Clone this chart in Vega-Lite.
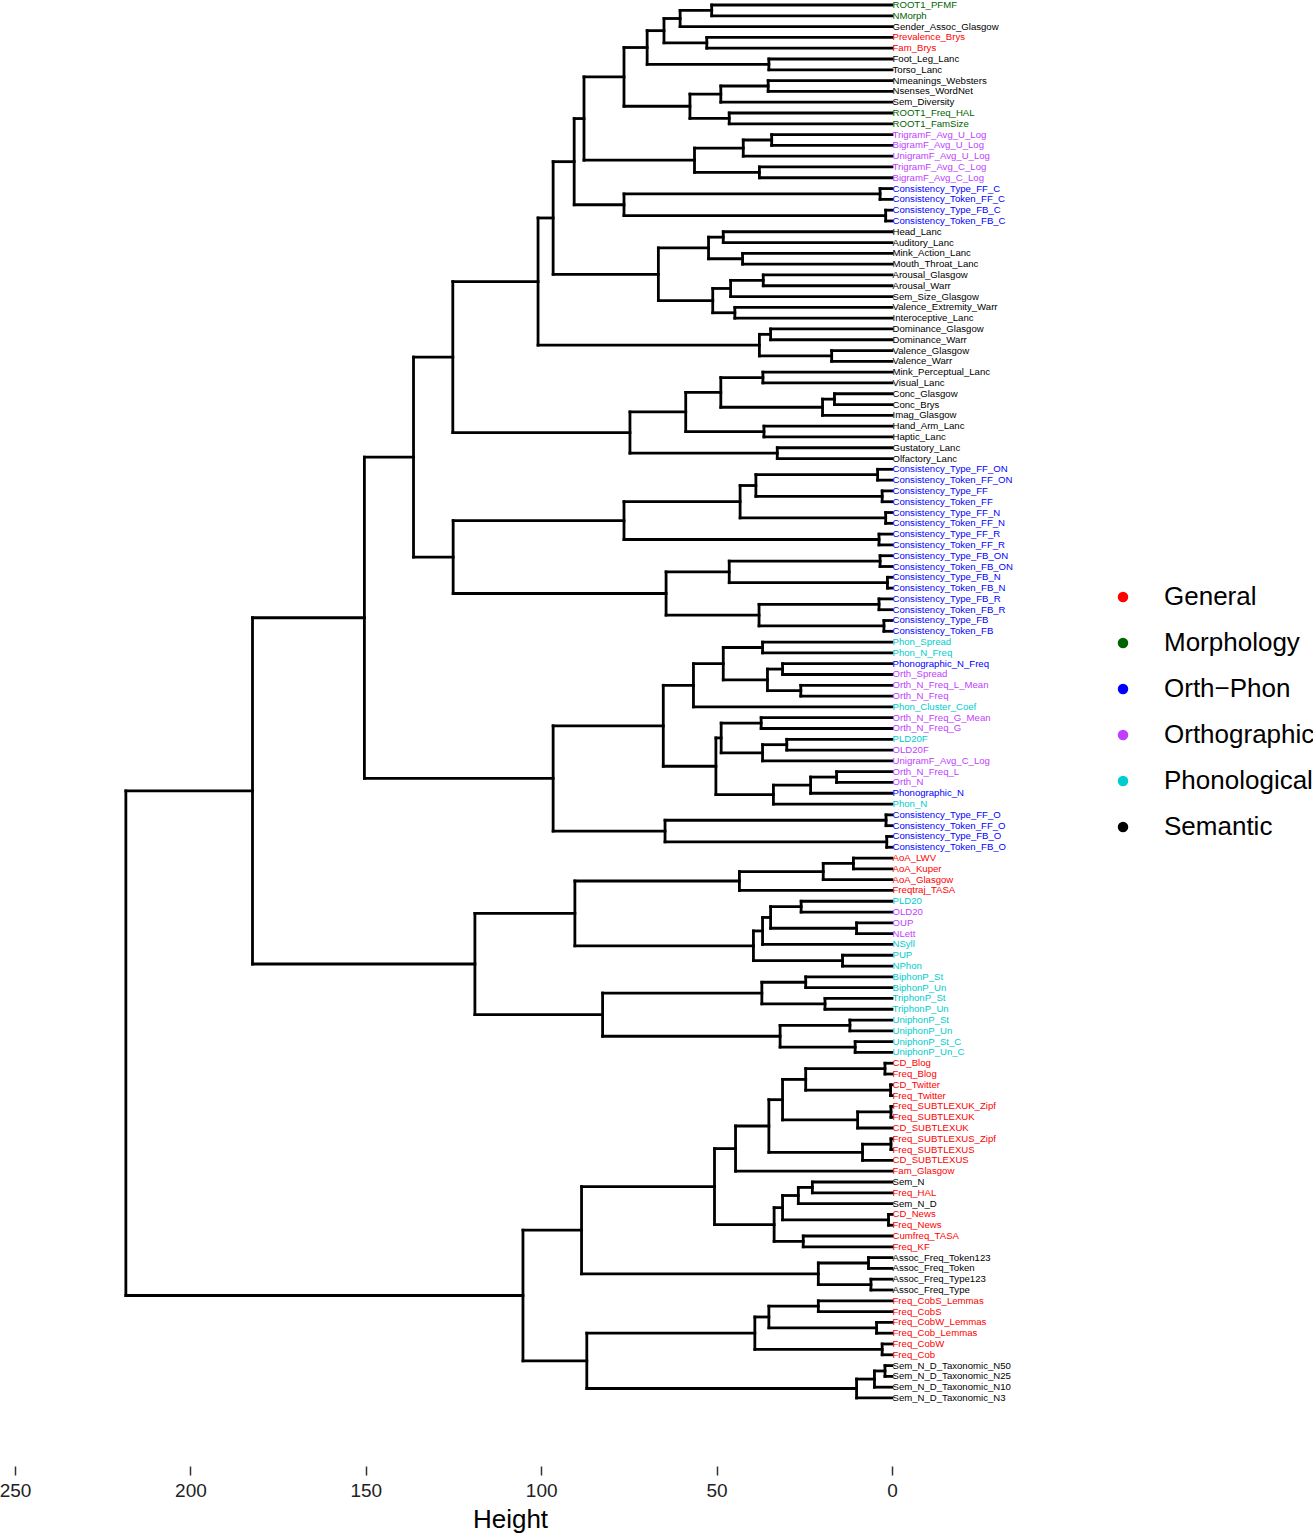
{
"$schema": "https://vega.github.io/schema/vega-lite/v6.json",
"width": 1020, "height": 1466, "padding": {"left": 0, "top": 0, "right": 293, "bottom": 69}, "autosize": {"type": "none"},
"config": {"view": {"stroke": null}, "font": "Liberation Sans"},
"datasets": {
"nodes": [
{"h":51.4,"a":1,"b":2,"ha":0,"hb":0},
{"h":60.4,"a":1.5,"b":3,"ha":51.4,"hb":0},
{"h":52.8,"a":4,"b":5,"ha":0,"hb":0},
{"h":65.0,"a":2.25,"b":4.5,"ha":60.4,"hb":52.8},
{"h":35.1,"a":6,"b":7,"ha":0,"hb":0},
{"h":69.8,"a":3.375,"b":6.5,"ha":65.0,"hb":35.1},
{"h":35.3,"a":8,"b":9,"ha":0,"hb":0},
{"h":48.8,"a":8.5,"b":10,"ha":35.3,"hb":0},
{"h":46.4,"a":11,"b":12,"ha":0,"hb":0},
{"h":57.6,"a":9.25,"b":11.5,"ha":48.8,"hb":46.4},
{"h":76.4,"a":4.9375,"b":10.375,"ha":69.8,"hb":57.6},
{"h":34.3,"a":13,"b":14,"ha":0,"hb":0},
{"h":42.4,"a":13.5,"b":15,"ha":34.3,"hb":0},
{"h":37.8,"a":16,"b":17,"ha":0,"hb":0},
{"h":56.3,"a":14.25,"b":16.5,"ha":42.4,"hb":37.8},
{"h":87.8,"a":7.656,"b":15.375,"ha":76.4,"hb":56.3},
{"h":3.4,"a":18,"b":19,"ha":0,"hb":0},
{"h":1.8,"a":20,"b":21,"ha":0,"hb":0},
{"h":76.4,"a":18.5,"b":20.5,"ha":3.4,"hb":1.8},
{"h":90.6,"a":11.516,"b":19.5,"ha":87.8,"hb":76.4},
{"h":48.1,"a":22,"b":23,"ha":0,"hb":0},
{"h":42.6,"a":24,"b":25,"ha":0,"hb":0},
{"h":52.3,"a":22.5,"b":24.5,"ha":48.1,"hb":42.6},
{"h":36.7,"a":26,"b":27,"ha":0,"hb":0},
{"h":46.0,"a":26.5,"b":28,"ha":36.7,"hb":0},
{"h":44.8,"a":29,"b":30,"ha":0,"hb":0},
{"h":51.1,"a":27.25,"b":29.5,"ha":46.0,"hb":44.8},
{"h":66.6,"a":23.5,"b":28.375,"ha":52.3,"hb":51.1},
{"h":34.6,"a":31,"b":32,"ha":0,"hb":0},
{"h":17.2,"a":33,"b":34,"ha":0,"hb":0},
{"h":37.8,"a":31.5,"b":33.5,"ha":34.6,"hb":17.2},
{"h":96.6,"a":15.508,"b":25.938,"ha":90.6,"hb":66.6},
{"h":100.9,"a":20.723,"b":32.5,"ha":96.6,"hb":37.8},
{"h":36.8,"a":35,"b":36,"ha":0,"hb":0},
{"h":16.4,"a":37,"b":38,"ha":0,"hb":0},
{"h":19.8,"a":37.5,"b":39,"ha":16.4,"hb":0},
{"h":48.8,"a":35.5,"b":38.25,"ha":36.8,"hb":19.8},
{"h":36.5,"a":40,"b":41,"ha":0,"hb":0},
{"h":58.8,"a":36.875,"b":40.5,"ha":48.8,"hb":36.5},
{"h":32.7,"a":42,"b":43,"ha":0,"hb":0},
{"h":74.7,"a":38.688,"b":42.5,"ha":58.8,"hb":32.7},
{"h":125.2,"a":26.611,"b":40.594,"ha":100.9,"hb":74.7},
{"h":4.1,"a":44,"b":45,"ha":0,"hb":0},
{"h":2.8,"a":46,"b":47,"ha":0,"hb":0},
{"h":38.8,"a":44.5,"b":46.5,"ha":4.1,"hb":2.8},
{"h":1.8,"a":48,"b":49,"ha":0,"hb":0},
{"h":43.3,"a":45.5,"b":48.5,"ha":38.8,"hb":1.8},
{"h":3.7,"a":50,"b":51,"ha":0,"hb":0},
{"h":76.4,"a":47,"b":50.5,"ha":43.3,"hb":3.7},
{"h":3.4,"a":52,"b":53,"ha":0,"hb":0},
{"h":1.3,"a":54,"b":55,"ha":0,"hb":0},
{"h":46.4,"a":52.5,"b":54.5,"ha":3.4,"hb":1.3},
{"h":3.7,"a":56,"b":57,"ha":0,"hb":0},
{"h":2.3,"a":58,"b":59,"ha":0,"hb":0},
{"h":37.9,"a":56.5,"b":58.5,"ha":3.7,"hb":2.3},
{"h":64.4,"a":53.5,"b":57.5,"ha":46.4,"hb":37.9},
{"h":125.1,"a":48.75,"b":55.5,"ha":76.4,"hb":64.4},
{"h":136.4,"a":33.603,"b":52.125,"ha":125.2,"hb":125.1},
{"h":36.9,"a":60,"b":61,"ha":0,"hb":0},
{"h":31.2,"a":62,"b":63,"ha":0,"hb":0},
{"h":26.0,"a":64,"b":65,"ha":0,"hb":0},
{"h":35.5,"a":62.5,"b":64.5,"ha":31.2,"hb":26.0},
{"h":48.1,"a":60.5,"b":63.5,"ha":36.9,"hb":35.5},
{"h":56.6,"a":62,"b":66,"ha":48.1,"hb":0},
{"h":37.3,"a":67,"b":68,"ha":0,"hb":0},
{"h":30.0,"a":69,"b":70,"ha":0,"hb":0},
{"h":36.9,"a":69.5,"b":71,"ha":30.0,"hb":0},
{"h":48.7,"a":67.5,"b":70.25,"ha":37.3,"hb":36.9},
{"h":15.8,"a":72,"b":73,"ha":0,"hb":0},
{"h":23.2,"a":72.5,"b":74,"ha":15.8,"hb":0},
{"h":33.8,"a":73.25,"b":75,"ha":23.2,"hb":0},
{"h":50.2,"a":68.875,"b":74.125,"ha":48.7,"hb":33.8},
{"h":65.2,"a":64,"b":71.5,"ha":56.6,"hb":50.2},
{"h":1.7,"a":76,"b":77,"ha":0,"hb":0},
{"h":1.5,"a":78,"b":79,"ha":0,"hb":0},
{"h":64.7,"a":76.5,"b":78.5,"ha":1.7,"hb":1.5},
{"h":96.6,"a":67.75,"b":77.5,"ha":65.2,"hb":64.7},
{"h":150.4,"a":42.864,"b":72.625,"ha":136.4,"hb":96.6},
{"h":11.0,"a":80,"b":81,"ha":0,"hb":0},
{"h":19.6,"a":80.5,"b":82,"ha":11.0,"hb":0},
{"h":43.5,"a":81.25,"b":83,"ha":19.6,"hb":0},
{"h":25.9,"a":84,"b":85,"ha":0,"hb":0},
{"h":10.1,"a":86,"b":87,"ha":0,"hb":0},
{"h":34.6,"a":84.5,"b":86.5,"ha":25.9,"hb":10.1},
{"h":36.9,"a":85.5,"b":88,"ha":34.6,"hb":0},
{"h":14.1,"a":89,"b":90,"ha":0,"hb":0},
{"h":39.5,"a":86.75,"b":89.5,"ha":36.9,"hb":14.1},
{"h":90.4,"a":82.125,"b":88.125,"ha":43.5,"hb":39.5},
{"h":24.6,"a":91,"b":92,"ha":0,"hb":0},
{"h":19.1,"a":93,"b":94,"ha":0,"hb":0},
{"h":37.1,"a":91.5,"b":93.5,"ha":24.6,"hb":19.1},
{"h":12.0,"a":95,"b":96,"ha":0,"hb":0},
{"h":10.5,"a":97,"b":98,"ha":0,"hb":0},
{"h":31.9,"a":95.5,"b":97.5,"ha":12.0,"hb":10.5},
{"h":82.5,"a":92.5,"b":96.5,"ha":37.1,"hb":31.9},
{"h":118.9,"a":85.125,"b":94.5,"ha":90.4,"hb":82.5},
{"h":182.3,"a":57.744,"b":89.813,"ha":150.4,"hb":118.9},
{"h":2.0,"a":99,"b":100,"ha":0,"hb":0},
{"h":0.4,"a":101,"b":102,"ha":0,"hb":0},
{"h":24.6,"a":99.5,"b":101.5,"ha":2.0,"hb":0.4},
{"h":0.3,"a":103,"b":104,"ha":0,"hb":0},
{"h":9.8,"a":103.5,"b":105,"ha":0.3,"hb":0},
{"h":31.2,"a":100.5,"b":104.25,"ha":24.6,"hb":9.8},
{"h":0.3,"a":106,"b":107,"ha":0,"hb":0},
{"h":8.4,"a":106.5,"b":108,"ha":0.3,"hb":0},
{"h":35.1,"a":102.375,"b":107.25,"ha":31.2,"hb":8.4},
{"h":44.6,"a":104.813,"b":109,"ha":35.1,"hb":0},
{"h":22.7,"a":110,"b":111,"ha":0,"hb":0},
{"h":26.7,"a":110.5,"b":112,"ha":22.7,"hb":0},
{"h":1.0,"a":113,"b":114,"ha":0,"hb":0},
{"h":31.2,"a":111.25,"b":113.5,"ha":26.7,"hb":1.0},
{"h":25.3,"a":115,"b":116,"ha":0,"hb":0},
{"h":33.6,"a":112.375,"b":115.5,"ha":31.2,"hb":25.3},
{"h":50.6,"a":106.906,"b":113.938,"ha":44.6,"hb":33.6},
{"h":6.7,"a":117,"b":118,"ha":0,"hb":0},
{"h":6.0,"a":119,"b":120,"ha":0,"hb":0},
{"h":21.0,"a":117.5,"b":119.5,"ha":6.7,"hb":6.0},
{"h":88.5,"a":110.422,"b":118.5,"ha":50.6,"hb":21.0},
{"h":21.0,"a":121,"b":122,"ha":0,"hb":0},
{"h":4.4,"a":123,"b":124,"ha":0,"hb":0},
{"h":35.1,"a":121.5,"b":123.5,"ha":21.0,"hb":4.4},
{"h":2.8,"a":125,"b":126,"ha":0,"hb":0},
{"h":39.1,"a":122.5,"b":125.5,"ha":35.1,"hb":2.8},
{"h":2.0,"a":127,"b":128,"ha":0,"hb":0},
{"h":5.0,"a":127.5,"b":129,"ha":2.0,"hb":0},
{"h":10.1,"a":128.25,"b":130,"ha":5.0,"hb":0},
{"h":87.0,"a":124,"b":129.125,"ha":39.1,"hb":10.1},
{"h":105.2,"a":114.461,"b":126.563,"ha":88.5,"hb":87.0},
{"h":218.4,"a":73.778,"b":120.512,"ha":182.3,"hb":105.2}
],
"leaves": [
{"i":1,"label":"ROOT1_PFMF","cat":"Morphology"},
{"i":2,"label":"NMorph","cat":"Morphology"},
{"i":3,"label":"Gender_Assoc_Glasgow","cat":"Semantic"},
{"i":4,"label":"Prevalence_Brys","cat":"General"},
{"i":5,"label":"Fam_Brys","cat":"General"},
{"i":6,"label":"Foot_Leg_Lanc","cat":"Semantic"},
{"i":7,"label":"Torso_Lanc","cat":"Semantic"},
{"i":8,"label":"Nmeanings_Websters","cat":"Semantic"},
{"i":9,"label":"Nsenses_WordNet","cat":"Semantic"},
{"i":10,"label":"Sem_Diversity","cat":"Semantic"},
{"i":11,"label":"ROOT1_Freq_HAL","cat":"Morphology"},
{"i":12,"label":"ROOT1_FamSize","cat":"Morphology"},
{"i":13,"label":"TrigramF_Avg_U_Log","cat":"Orthographic"},
{"i":14,"label":"BigramF_Avg_U_Log","cat":"Orthographic"},
{"i":15,"label":"UnigramF_Avg_U_Log","cat":"Orthographic"},
{"i":16,"label":"TrigramF_Avg_C_Log","cat":"Orthographic"},
{"i":17,"label":"BigramF_Avg_C_Log","cat":"Orthographic"},
{"i":18,"label":"Consistency_Type_FF_C","cat":"Orth−Phon"},
{"i":19,"label":"Consistency_Token_FF_C","cat":"Orth−Phon"},
{"i":20,"label":"Consistency_Type_FB_C","cat":"Orth−Phon"},
{"i":21,"label":"Consistency_Token_FB_C","cat":"Orth−Phon"},
{"i":22,"label":"Head_Lanc","cat":"Semantic"},
{"i":23,"label":"Auditory_Lanc","cat":"Semantic"},
{"i":24,"label":"Mink_Action_Lanc","cat":"Semantic"},
{"i":25,"label":"Mouth_Throat_Lanc","cat":"Semantic"},
{"i":26,"label":"Arousal_Glasgow","cat":"Semantic"},
{"i":27,"label":"Arousal_Warr","cat":"Semantic"},
{"i":28,"label":"Sem_Size_Glasgow","cat":"Semantic"},
{"i":29,"label":"Valence_Extremity_Warr","cat":"Semantic"},
{"i":30,"label":"Interoceptive_Lanc","cat":"Semantic"},
{"i":31,"label":"Dominance_Glasgow","cat":"Semantic"},
{"i":32,"label":"Dominance_Warr","cat":"Semantic"},
{"i":33,"label":"Valence_Glasgow","cat":"Semantic"},
{"i":34,"label":"Valence_Warr","cat":"Semantic"},
{"i":35,"label":"Mink_Perceptual_Lanc","cat":"Semantic"},
{"i":36,"label":"Visual_Lanc","cat":"Semantic"},
{"i":37,"label":"Conc_Glasgow","cat":"Semantic"},
{"i":38,"label":"Conc_Brys","cat":"Semantic"},
{"i":39,"label":"Imag_Glasgow","cat":"Semantic"},
{"i":40,"label":"Hand_Arm_Lanc","cat":"Semantic"},
{"i":41,"label":"Haptic_Lanc","cat":"Semantic"},
{"i":42,"label":"Gustatory_Lanc","cat":"Semantic"},
{"i":43,"label":"Olfactory_Lanc","cat":"Semantic"},
{"i":44,"label":"Consistency_Type_FF_ON","cat":"Orth−Phon"},
{"i":45,"label":"Consistency_Token_FF_ON","cat":"Orth−Phon"},
{"i":46,"label":"Consistency_Type_FF","cat":"Orth−Phon"},
{"i":47,"label":"Consistency_Token_FF","cat":"Orth−Phon"},
{"i":48,"label":"Consistency_Type_FF_N","cat":"Orth−Phon"},
{"i":49,"label":"Consistency_Token_FF_N","cat":"Orth−Phon"},
{"i":50,"label":"Consistency_Type_FF_R","cat":"Orth−Phon"},
{"i":51,"label":"Consistency_Token_FF_R","cat":"Orth−Phon"},
{"i":52,"label":"Consistency_Type_FB_ON","cat":"Orth−Phon"},
{"i":53,"label":"Consistency_Token_FB_ON","cat":"Orth−Phon"},
{"i":54,"label":"Consistency_Type_FB_N","cat":"Orth−Phon"},
{"i":55,"label":"Consistency_Token_FB_N","cat":"Orth−Phon"},
{"i":56,"label":"Consistency_Type_FB_R","cat":"Orth−Phon"},
{"i":57,"label":"Consistency_Token_FB_R","cat":"Orth−Phon"},
{"i":58,"label":"Consistency_Type_FB","cat":"Orth−Phon"},
{"i":59,"label":"Consistency_Token_FB","cat":"Orth−Phon"},
{"i":60,"label":"Phon_Spread","cat":"Phonological"},
{"i":61,"label":"Phon_N_Freq","cat":"Phonological"},
{"i":62,"label":"Phonographic_N_Freq","cat":"Orth−Phon"},
{"i":63,"label":"Orth_Spread","cat":"Orthographic"},
{"i":64,"label":"Orth_N_Freq_L_Mean","cat":"Orthographic"},
{"i":65,"label":"Orth_N_Freq","cat":"Orthographic"},
{"i":66,"label":"Phon_Cluster_Coef","cat":"Phonological"},
{"i":67,"label":"Orth_N_Freq_G_Mean","cat":"Orthographic"},
{"i":68,"label":"Orth_N_Freq_G","cat":"Orthographic"},
{"i":69,"label":"PLD20F","cat":"Phonological"},
{"i":70,"label":"OLD20F","cat":"Orthographic"},
{"i":71,"label":"UnigramF_Avg_C_Log","cat":"Orthographic"},
{"i":72,"label":"Orth_N_Freq_L","cat":"Orthographic"},
{"i":73,"label":"Orth_N","cat":"Orthographic"},
{"i":74,"label":"Phonographic_N","cat":"Orth−Phon"},
{"i":75,"label":"Phon_N","cat":"Phonological"},
{"i":76,"label":"Consistency_Type_FF_O","cat":"Orth−Phon"},
{"i":77,"label":"Consistency_Token_FF_O","cat":"Orth−Phon"},
{"i":78,"label":"Consistency_Type_FB_O","cat":"Orth−Phon"},
{"i":79,"label":"Consistency_Token_FB_O","cat":"Orth−Phon"},
{"i":80,"label":"AoA_LWV","cat":"General"},
{"i":81,"label":"AoA_Kuper","cat":"General"},
{"i":82,"label":"AoA_Glasgow","cat":"General"},
{"i":83,"label":"Freqtraj_TASA","cat":"General"},
{"i":84,"label":"PLD20","cat":"Phonological"},
{"i":85,"label":"OLD20","cat":"Orthographic"},
{"i":86,"label":"OUP","cat":"Orthographic"},
{"i":87,"label":"NLett","cat":"Orthographic"},
{"i":88,"label":"NSyll","cat":"Phonological"},
{"i":89,"label":"PUP","cat":"Phonological"},
{"i":90,"label":"NPhon","cat":"Phonological"},
{"i":91,"label":"BiphonP_St","cat":"Phonological"},
{"i":92,"label":"BiphonP_Un","cat":"Phonological"},
{"i":93,"label":"TriphonP_St","cat":"Phonological"},
{"i":94,"label":"TriphonP_Un","cat":"Phonological"},
{"i":95,"label":"UniphonP_St","cat":"Phonological"},
{"i":96,"label":"UniphonP_Un","cat":"Phonological"},
{"i":97,"label":"UniphonP_St_C","cat":"Phonological"},
{"i":98,"label":"UniphonP_Un_C","cat":"Phonological"},
{"i":99,"label":"CD_Blog","cat":"General"},
{"i":100,"label":"Freq_Blog","cat":"General"},
{"i":101,"label":"CD_Twitter","cat":"General"},
{"i":102,"label":"Freq_Twitter","cat":"General"},
{"i":103,"label":"Freq_SUBTLEXUK_Zipf","cat":"General"},
{"i":104,"label":"Freq_SUBTLEXUK","cat":"General"},
{"i":105,"label":"CD_SUBTLEXUK","cat":"General"},
{"i":106,"label":"Freq_SUBTLEXUS_Zipf","cat":"General"},
{"i":107,"label":"Freq_SUBTLEXUS","cat":"General"},
{"i":108,"label":"CD_SUBTLEXUS","cat":"General"},
{"i":109,"label":"Fam_Glasgow","cat":"General"},
{"i":110,"label":"Sem_N","cat":"Semantic"},
{"i":111,"label":"Freq_HAL","cat":"General"},
{"i":112,"label":"Sem_N_D","cat":"Semantic"},
{"i":113,"label":"CD_News","cat":"General"},
{"i":114,"label":"Freq_News","cat":"General"},
{"i":115,"label":"Cumfreq_TASA","cat":"General"},
{"i":116,"label":"Freq_KF","cat":"General"},
{"i":117,"label":"Assoc_Freq_Token123","cat":"Semantic"},
{"i":118,"label":"Assoc_Freq_Token","cat":"Semantic"},
{"i":119,"label":"Assoc_Freq_Type123","cat":"Semantic"},
{"i":120,"label":"Assoc_Freq_Type","cat":"Semantic"},
{"i":121,"label":"Freq_CobS_Lemmas","cat":"General"},
{"i":122,"label":"Freq_CobS","cat":"General"},
{"i":123,"label":"Freq_CobW_Lemmas","cat":"General"},
{"i":124,"label":"Freq_Cob_Lemmas","cat":"General"},
{"i":125,"label":"Freq_CobW","cat":"General"},
{"i":126,"label":"Freq_Cob","cat":"General"},
{"i":127,"label":"Sem_N_D_Taxonomic_N50","cat":"Semantic"},
{"i":128,"label":"Sem_N_D_Taxonomic_N25","cat":"Semantic"},
{"i":129,"label":"Sem_N_D_Taxonomic_N10","cat":"Semantic"},
{"i":130,"label":"Sem_N_D_Taxonomic_N3","cat":"Semantic"}
]
},
"layer": [
{
"data": {"name": "nodes"},
"mark": {"type": "rule", "strokeWidth": 2.8, "color": "black", "strokeCap": "square"},
"encoding": {
"x": {"field": "h", "type": "quantitative",
"scale": {"domain": [-36.49, 254.28], "reverse": true, "nice": false, "zero": false},
"axis": {"values": [250, 200, 150, 100, 50, 0], "title": "Height", "domain": false, "grid": false,
"tickSize": 9, "tickWidth": 1.5, "tickColor": "#333333", "labelFontSize": 19, "labelColor": "#222222",
"labelPadding": 6, "titleFontSize": 26, "titleFontWeight": "normal", "titleColor": "black", "titlePadding": 6,
"labelFont": "Liberation Sans", "titleFont": "Liberation Sans"}},
"y": {"field": "a", "type": "quantitative",
"scale": {"domain": [0.537, 136.3], "reverse": true, "nice": false, "zero": false}, "axis": null},
"y2": {"field": "b"}
}
},
{
"data": {"name": "nodes"},
"mark": {"type": "rule", "strokeWidth": 2.8, "color": "black", "strokeCap": "square"},
"encoding": {
"x": {"field": "ha", "type": "quantitative", "title": "Height"},
"x2": {"field": "h"},
"y": {"field": "a", "type": "quantitative", "axis": null}
}
},
{
"data": {"name": "nodes"},
"mark": {"type": "rule", "strokeWidth": 2.8, "color": "black", "strokeCap": "square"},
"encoding": {
"x": {"field": "hb", "type": "quantitative", "title": "Height"},
"x2": {"field": "h"},
"y": {"field": "b", "type": "quantitative", "axis": null}
}
},
{
"data": {"name": "leaves"},
"mark": {"type": "text", "align": "left", "baseline": "middle", "dx": 0.5, "fontSize": 9.6, "font": "Liberation Sans"},
"encoding": {
"x": {"datum": 0, "type": "quantitative"},
"y": {"field": "i", "type": "quantitative", "axis": null},
"text": {"field": "label"},
"color": {"field": "cat", "type": "nominal",
"scale": {"domain": ["General", "Morphology", "Orth−Phon", "Orthographic", "Phonological", "Semantic"],
"range": ["#FF0000", "#006400", "#0000FF", "#BF3EFF", "#00CDCD", "#000000"]},
"legend": {"title": null, "orient": "none", "legendX": 1110, "legendY": 584, "symbolType": "circle",
"symbolSize": 110, "symbolStrokeWidth": 0, "labelFontSize": 26, "labelFont": "Liberation Sans", "labelColor": "black",
"labelOffset": 28, "rowPadding": 20, "symbolOpacity": 1}}
}
}
]
}
